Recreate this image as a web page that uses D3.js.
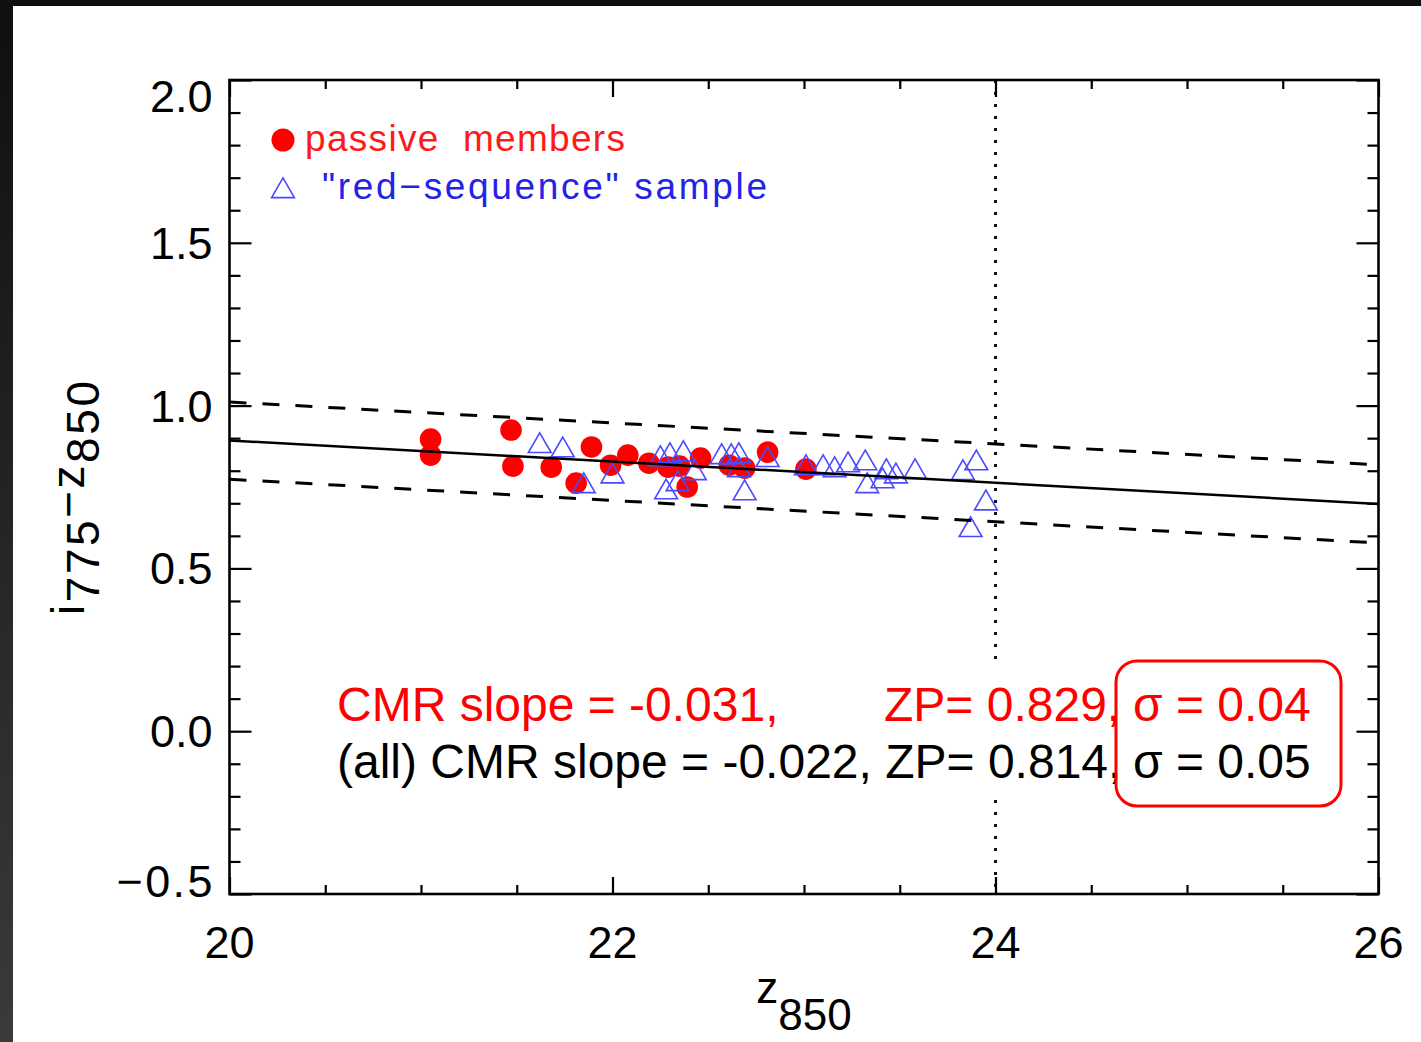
<!DOCTYPE html>
<html>
<head>
<meta charset="utf-8">
<script src="https://cdn.jsdelivr.net/npm/d3@7/dist/d3.min.js"></script>
<style>
  html, body { margin: 0; padding: 0; background: #111; }
  svg { display: block; }
  text { font-family: "Liberation Sans", Arial, sans-serif; }
</style>
</head>
<body>
<svg id="chart" width="1421" height="1042"></svg>
<script>
// ---------------- data ----------------
const xMajorTicks = [20, 22, 24, 26];
const xMinorTicks = [20.5, 21, 21.5, 22.5, 23, 23.5, 24.5, 25, 25.5];
const yMajorTicks = [-0.5, 0.0, 0.5, 1.0, 1.5, 2.0];
const yTickLabels = ["\u22120.5", "0.0", "0.5", "1.0", "1.5", "2.0"];
const yMinorTicks = [-0.4, -0.3, -0.2, -0.1, 0.1, 0.2, 0.3, 0.4, 0.6, 0.7, 0.8, 0.9,
                     1.1, 1.2, 1.3, 1.4, 1.6, 1.7, 1.8, 1.9];

// passive members (filled red circles): [z850, i775-z850]
const passiveZ = [21.05, 21.05, 21.47, 21.48, 21.68, 21.81, 21.89, 21.99, 22.08, 22.19,
                  22.29, 22.35, 22.39, 22.46, 22.61, 22.69, 22.81, 23.01];
const passiveC = [0.897, 0.848, 0.925, 0.814, 0.811, 0.762, 0.873, 0.817, 0.848, 0.823,
                  0.811, 0.814, 0.750, 0.839, 0.817, 0.808, 0.857, 0.805];

// "red-sequence" sample (open blue triangles)
const redseqZ = [21.62, 21.74, 21.85, 22.00, 22.25, 22.30, 22.37, 22.28, 22.34, 22.43,
                 22.57, 22.62, 22.66, 22.66, 22.69, 22.81, 23.01, 23.10, 23.16, 23.23,
                 23.32, 23.33, 23.41, 23.43, 23.48, 23.58, 23.83, 23.90, 23.95, 23.87];
const redseqC = [0.876, 0.863, 0.753, 0.783, 0.836, 0.845, 0.851, 0.734, 0.759, 0.793,
                 0.842, 0.842, 0.845, 0.802, 0.731, 0.833, 0.808, 0.808, 0.802, 0.817,
                 0.823, 0.753, 0.768, 0.796, 0.783, 0.796, 0.793, 0.823, 0.700, 0.618];

// colour-magnitude relation fit and its envelope (endpoints at z=20 and z=26)
const fitZ = [20, 26];
const fitC = [0.893, 0.698];
const upperC = [1.011, 0.818];
const lowerC = [0.774, 0.578];
const magLimit = 24;

const legendLabels = ["passive  members", "\"red\u2212sequence\" sample"];
const statRed = ["CMR slope = -0.031,", "ZP= 0.829,", "\u03c3 = 0.04"];
const statBlack = ["(all) CMR slope = -0.022, ZP= 0.814,", "\u03c3 = 0.05"];

// ---------------- drawing ----------------
const svg = d3.select("#chart");
const W = 1421, H = 1042;

// dark frame + white panel
const defs = svg.append("defs");
const grad = defs.append("linearGradient").attr("id", "lg").attr("x1", 0).attr("y1", 0).attr("x2", 0).attr("y2", 1);
grad.append("stop").attr("offset", "0%").attr("stop-color", "#0f0f0f");
grad.append("stop").attr("offset", "100%").attr("stop-color", "#3a3a3a");
svg.append("rect").attr("x", 0).attr("y", 0).attr("width", W).attr("height", H).attr("fill", "#0e0e0e");
svg.append("rect").attr("x", 0).attr("y", 0).attr("width", 13).attr("height", H).attr("fill", "url(#lg)");
svg.append("rect").attr("x", 13).attr("y", 6).attr("width", W - 13).attr("height", H - 6).attr("fill", "#ffffff");

const x = d3.scaleLinear().domain([20, 26]).range([229.5, 1378.5]);
const y = d3.scaleLinear().domain([-0.5, 2.0]).range([894, 80]);

defs.append("clipPath").attr("id", "plotclip").append("rect")
  .attr("x", x(20)).attr("y", y(2.0)).attr("width", x(26) - x(20)).attr("height", y(-0.5) - y(2.0));

const plot = svg.append("g").attr("clip-path", "url(#plotclip)");

// vertical dotted line at z = 24
plot.append("line")
  .attr("x1", x(magLimit)).attr("x2", x(magLimit))
  .attr("y1", y(2.0)).attr("y2", y(-0.5))
  .attr("stroke", "#111").attr("stroke-width", 3).attr("stroke-dasharray", "3,9");

// circles
plot.selectAll("circle.passive").data(d3.range(passiveZ.length)).join("circle")
  .attr("class", "passive")
  .attr("cx", i => x(passiveZ[i])).attr("cy", i => y(passiveC[i]))
  .attr("r", 10.8).attr("fill", "#ff0000");

// triangles
const tri = d3.symbol().type(d3.symbolTriangle).size(225);
plot.selectAll("path.redseq").data(d3.range(redseqZ.length)).join("path")
  .attr("class", "redseq")
  .attr("d", tri)
  .attr("transform", i => `translate(${x(redseqZ[i])},${y(redseqC[i])})`)
  .attr("fill", "none").attr("stroke", "#4a4aff").attr("stroke-width", 1.6);

// fit lines
const line = d3.line().x(d => x(d[0])).y(d => y(d[1]));
plot.append("path").datum(fitZ.map((z, i) => [z, fitC[i]]))
  .attr("d", line).attr("fill", "none").attr("stroke", "#000").attr("stroke-width", 2.5);
[upperC, lowerC].forEach(arr => {
  plot.append("path").datum(fitZ.map((z, i) => [z, arr[i]]))
    .attr("d", line).attr("fill", "none").attr("stroke", "#000")
    .attr("stroke-width", 3).attr("stroke-dasharray", "17,16");
});

// axes (ticks pointing inward)
const axStyle = g => {
  g.select(".domain").remove();
  g.selectAll(".tick line").attr("stroke", "#000").attr("stroke-width", 2.2);
  g.selectAll(".tick text").remove();
};
svg.append("g").attr("transform", `translate(0,${y(-0.5)})`)
  .call(d3.axisBottom(x).tickValues(xMajorTicks).tickSize(-17)).call(axStyle);
svg.append("g").attr("transform", `translate(0,${y(-0.5)})`)
  .call(d3.axisBottom(x).tickValues(xMinorTicks).tickSize(-9)).call(axStyle);
svg.append("g").attr("transform", `translate(0,${y(2.0)})`)
  .call(d3.axisTop(x).tickValues(xMajorTicks).tickSize(-17)).call(axStyle);
svg.append("g").attr("transform", `translate(0,${y(2.0)})`)
  .call(d3.axisTop(x).tickValues(xMinorTicks).tickSize(-9)).call(axStyle);
svg.append("g").attr("transform", `translate(${x(20)},0)`)
  .call(d3.axisLeft(y).tickValues(yMajorTicks).tickSize(-22)).call(axStyle);
svg.append("g").attr("transform", `translate(${x(20)},0)`)
  .call(d3.axisLeft(y).tickValues(yMinorTicks).tickSize(-11)).call(axStyle);
svg.append("g").attr("transform", `translate(${x(26)},0)`)
  .call(d3.axisRight(y).tickValues(yMajorTicks).tickSize(-22)).call(axStyle);
svg.append("g").attr("transform", `translate(${x(26)},0)`)
  .call(d3.axisRight(y).tickValues(yMinorTicks).tickSize(-11)).call(axStyle);

// frame
svg.append("rect").attr("x", x(20)).attr("y", y(2.0))
  .attr("width", x(26) - x(20)).attr("height", y(-0.5) - y(2.0))
  .attr("fill", "none").attr("stroke", "#000").attr("stroke-width", 2.6);

// tick labels
svg.selectAll("text.xlab").data(xMajorTicks).join("text")
  .attr("class", "xlab")
  .attr("x", d => x(d)).attr("y", y(-0.5) + 64)
  .attr("text-anchor", "middle").attr("font-size", 45).attr("fill", "#000")
  .text(d => d);
svg.selectAll("text.ylab").data(yMajorTicks).join("text")
  .attr("class", "ylab")
  .attr("x", x(20) - 17)
  .attr("y", (d, i) => i === yMajorTicks.length - 1 ? y(d) + 32 : (i === 0 ? y(d) + 3 : y(d) + 16))
  .attr("text-anchor", "end").attr("font-size", 45).attr("fill", "#000")
  .each(function (d, i) { if (i === 0) d3.select(this).attr("textLength", 96).attr("lengthAdjust", "spacing"); })
  .text((d, i) => yTickLabels[i]);

// axis titles
const xt = svg.append("text").attr("x", 804).attr("y", 1003).attr("text-anchor", "middle")
  .attr("font-size", 44).attr("fill", "#000");
xt.append("tspan").text("z");
xt.append("tspan").attr("dy", 27).text("850");

const yt = svg.append("text").attr("transform", "translate(84,498) rotate(-90)")
  .attr("text-anchor", "middle").attr("font-size", 46).attr("fill", "#000")
  .attr("textLength", 234).attr("lengthAdjust", "spacing");
yt.append("tspan").text("i");
yt.append("tspan").attr("dy", 15).text("775");
yt.append("tspan").attr("dy", -15).text("\u2212z");
yt.append("tspan").attr("dy", 15).text("850");

// legend
svg.append("circle").attr("cx", 283).attr("cy", 140).attr("r", 11.5).attr("fill", "#ff0000");
svg.append("text").attr("x", 305).attr("y", 151).attr("font-size", 37).attr("fill", "#ff1a1a")
  .attr("textLength", 320).attr("lengthAdjust", "spacing").style("white-space", "pre")
  .text(legendLabels[0]);
svg.append("path").attr("d", d3.symbol().type(d3.symbolTriangle).size(225))
  .attr("transform", "translate(283,191)")
  .attr("fill", "none").attr("stroke", "#4a4aff").attr("stroke-width", 1.6);
svg.append("text").attr("x", 322).attr("y", 199).attr("font-size", 37).attr("fill", "#2323e8")
  .attr("textLength", 445).attr("lengthAdjust", "spacing").style("white-space", "pre")
  .text(legendLabels[1]);

// statistics box
svg.append("rect").attr("x", 332).attr("y", 662).attr("width", 1012).attr("height", 135).attr("fill", "#fff");
svg.append("text").attr("x", 337).attr("y", 721).attr("font-size", 48).attr("fill", "#ff0000").text(statRed[0]);
svg.append("text").attr("x", 884).attr("y", 721).attr("font-size", 48).attr("fill", "#ff0000").text(statRed[1]);
svg.append("text").attr("x", 1133).attr("y", 721).attr("font-size", 48).attr("fill", "#ff0000").text(statRed[2]);
svg.append("text").attr("x", 337).attr("y", 778).attr("font-size", 48).attr("fill", "#000").text(statBlack[0]);
svg.append("text").attr("x", 1133).attr("y", 778).attr("font-size", 48).attr("fill", "#000").text(statBlack[1]);
svg.append("rect").attr("x", 1116).attr("y", 661).attr("width", 225).attr("height", 145)
  .attr("rx", 21).attr("ry", 21).attr("fill", "none").attr("stroke", "#ff0000").attr("stroke-width", 3);
</script>
</body>
</html>
